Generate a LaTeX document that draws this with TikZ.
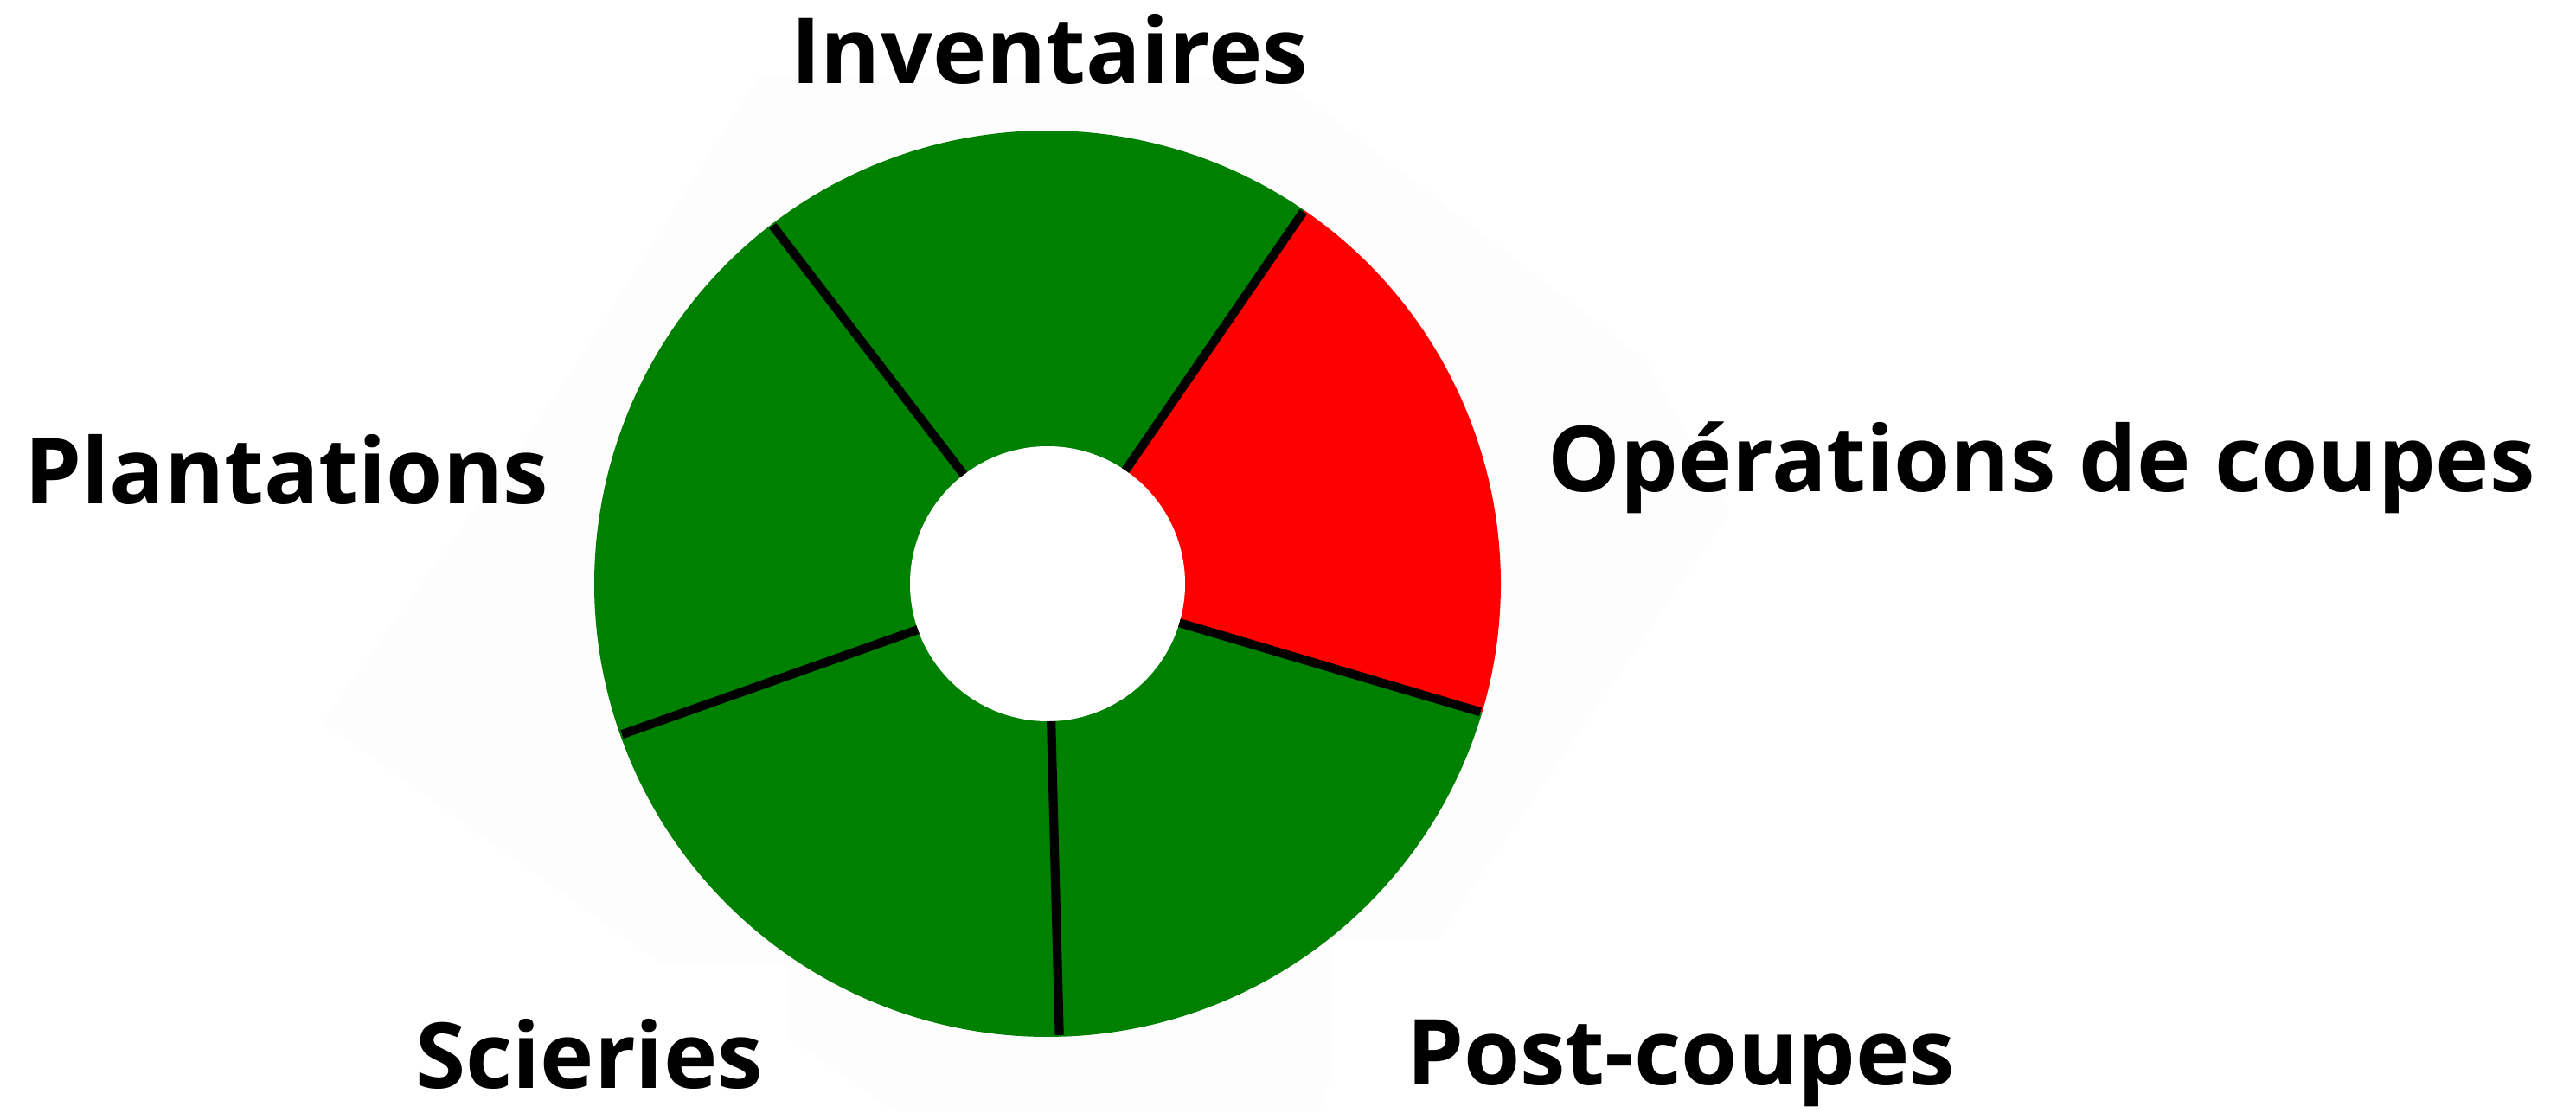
\documentclass[tikz,border=0pt]{standalone}
\usepackage{fontspec}
\setmainfont{Open Sans}
\definecolor{forest}{RGB}{0,128,0}
\definecolor{cut}{RGB}{255,0,0}
\definecolor{haze}{RGB}{253,253,253}
\begin{document}
\begin{tikzpicture}[
  divider/.style = {line width=2.9pt, black},
  every node/.style = {font=\fontsize{30}{36}\selectfont\bfseries,
    anchor=base, inner sep=0pt}]
\useasboundingbox (0,0) rectangle (29.78,12.86);
\fill[haze] (8.76,11.96) -- (14.80,11.96) -- (19.03,8.69) -- (20.00,6.94)
  -- (16.61,1.99) -- (15.38,1.99) -- (15.38,0.39) -- (15.26,0) -- (10.35,0)
  -- (9.09,0.89) -- (9.09,1.71) -- (7.66,1.71) -- (3.73,4.51) -- (6.29,8.09)
  -- (6.57,8.50) -- cycle;
\coordinate (hub) at (12.11,6.11);
\foreach \from/\to/\col in {55.5/127.5/forest, 127.5/199.5/forest,
    199.5/271.5/forest, 271.5/343.5/forest, 343.5/415.5/cut}
  \fill[\col] (hub) -- ++(\from:5.24) arc[start angle=\from, end angle=\to, radius=5.24] -- cycle;
\fill[white] (hub) circle[radius=1.59];
\foreach \a in {55.5,127.5,199.5,271.5,343.5}
  \draw[divider] ([shift={(\a:1.59)}]hub) -- ([shift={(\a:5.22)}]hub);
\node (inv) at (12.13,11.90) {Inventaires};
\node (ops) at (23.60,7.18) {Opérations de coupes};
\node (plant) at (3.31,7.04) {Plantations};
\node (post) at (19.43,0.32) {Post-coupes};
\node (sci) at (6.81,0.28) {Scieries};
\end{tikzpicture}
\end{document}
